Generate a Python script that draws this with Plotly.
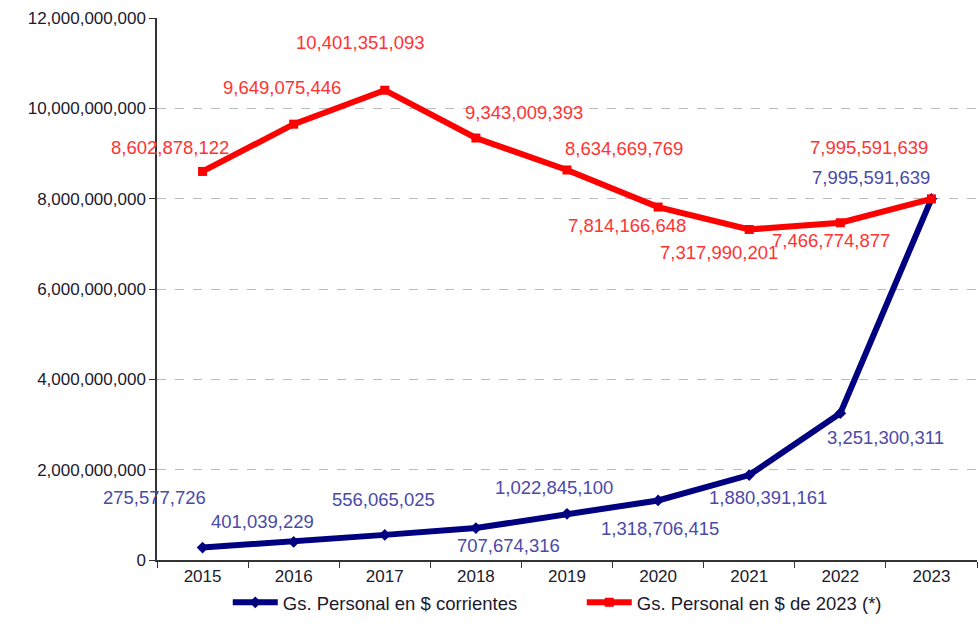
import plotly.graph_objects as go

years = ["2015", "2016", "2017", "2018", "2019", "2020", "2021", "2022", "2023"]
corrientes = [275577726, 401039229, 556065025, 707674316, 1022845100,
              1318706415, 1880391161, 3251300311, 7995591639]
constantes = [8602878122, 9649075446, 10401351093, 9343009393, 8634669769,
              7814166648, 7317990201, 7466774877, 7995591639]
y_ticks = [0, 2000000000, 4000000000, 6000000000, 8000000000, 10000000000, 12000000000]

# label offsets in px (dx, dy) - styling only
blue_off = [(-48, 50), (-31, 20), (-1, 35), (33, -17), (-13, 26), (2, -28), (19, -22), (45, -24), (-60, 21)]
red_off = [(-33, 24), (-12, 37), (-24, 48), (48, 26), (57, 22), (-31, -18), (-30, -23), (-9, -18), (-62, 51)]

FONT = "Liberation Sans, Arial, sans-serif"

fig = go.Figure()
fig.add_trace(go.Scatter(
    x=years, y=corrientes, mode="lines+markers",
    name="Gs. Personal en $ corrientes",
    line=dict(color="#000080", width=6),
    marker=dict(symbol="diamond", size=9, color="#000080"),
))
fig.add_trace(go.Scatter(
    x=years, y=constantes, mode="lines+markers",
    name="Gs. Personal en $ de 2023 (*)",
    line=dict(color="#FF0000", width=6),
    marker=dict(symbol="square", size=9, color="#FF0000"),
))

for i, yr in enumerate(years):
    dx, dy = blue_off[i]
    fig.add_annotation(x=i, y=corrientes[i], xref="x", yref="y",
                       text=f"{corrientes[i]:,}", showarrow=False,
                       xshift=dx, yshift=dy, font=dict(color="#4a4aa8", size=18.5))
    dx, dy = red_off[i]
    fig.add_annotation(x=i, y=constantes[i], xref="x", yref="y",
                       text=f"{constantes[i]:,}", showarrow=False,
                       xshift=dx, yshift=dy, font=dict(color="#FF3333", size=18.5))

fig.update_layout(
    width=979, height=627,
    margin=dict(l=157, r=2, t=18, b=67),
    paper_bgcolor="white", plot_bgcolor="white",
    font=dict(family=FONT, size=17, color="#1a1a2e"),
    showlegend=True,
    legend=dict(orientation="h", x=0.518, xanchor="center", y=-0.079, yanchor="middle",
                bgcolor="rgba(0,0,0,0)", entrywidth=294,
                font=dict(size=18.5, color="#1a1a2e"), itemwidth=45, tracegroupgap=0),
    xaxis=dict(type="category", range=[-0.5, 8.5], tickson="boundaries",
               ticks="outside", ticklen=6, tickcolor="#333", showline=True,
               linecolor="#333", linewidth=1.5, showgrid=False, automargin=False,
               tickfont=dict(size=17, color="#1a1a2e")),
    yaxis=dict(range=[0, 12000000000], tickvals=y_ticks,
               ticktext=[f"{v:,}" for v in y_ticks],
               ticks="outside", ticklen=6, tickcolor="#333", showline=True,
               linecolor="#333", linewidth=1.5, automargin=False,
               showgrid=True, gridcolor="#bbbbbb", griddash="dash", gridwidth=1,
               zeroline=False, tickfont=dict(size=17, color="#1a1a2e")),
)

fig.write_html("out.html", config={"displayModeBar": False},
               post_script="document.body.style.margin='0';document.body.style.overflow='hidden';")
